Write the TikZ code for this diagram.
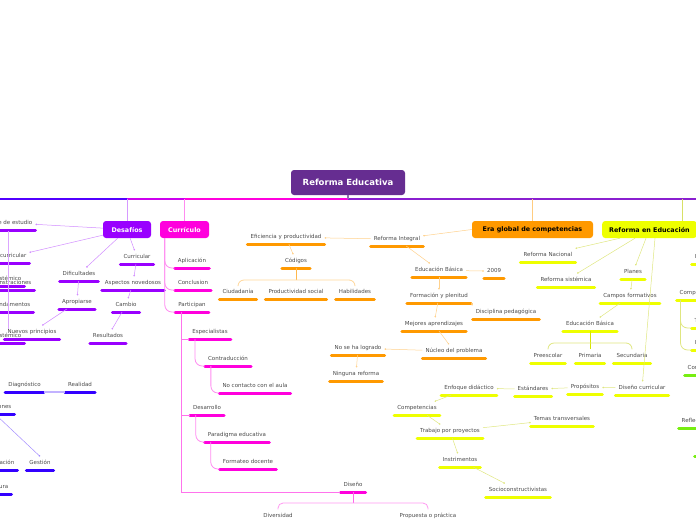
\documentclass[tikz,border=0pt]{standalone}
\usepackage{fontspec}
\setmainfont{DejaVu Sans}
\usetikzlibrary{positioning,arrows.meta,calc}
\definecolor{rootc}{HTML}{662D91}
\definecolor{spinec}{HTML}{8A1FD0}
\definecolor{desaf}{HTML}{9900FF}
\definecolor{curr}{HTML}{FF00DD}
\definecolor{erac}{HTML}{FF9900}
\definecolor{refo}{HTML}{EEFF00}
\definecolor{azul}{HTML}{3300FF}
\definecolor{verde}{HTML}{77EE11}
\definecolor{txt}{HTML}{4A4A4A}
\newcommand\lblfont{\fontsize{5.5}{6.5}\selectfont}
\newcommand\topfont{\fontsize{6.4}{8}\selectfont\bfseries}
\newcommand\rootfont{\fontsize{8.5}{10}\selectfont\bfseries}
\tikzset{topic/.style={rounded corners=3pt, font=\topfont, minimum height=17pt, inner xsep=6pt, inner ysep=2pt}}
\tikzset{lbl/.style={font=\lblfont, text=txt, inner xsep=3pt, inner ysep=4pt, text height=4pt, text depth=1.2pt, anchor=south}}
\tikzset{ubar/.style={line width=3pt, line cap=round}}
\tikzset{lnk/.style={draw=#1, line width=0.5pt, -{Circle[length=1.6pt]}}}
\tikzset{stem/.style={draw=#1, line width=0.8pt, rounded corners=7pt}}
% leaf: label with its underline bar
\newcommand\leaf[5][]{
		\node[lbl, #1] (#3) at (#4) {#5};
		\draw[ubar, #2] (#3.south west) -- (#3.south east);
		}
\begin{document}
\begin{tikzpicture}[x=1pt, y=-1pt]
	\useasboundingbox (0,0) rectangle (696,520);
	% main topics
	\node[topic, fill=rootc, text=white, font=\rootfont, minimum width=114pt, minimum height=25pt] (root) at (348,182.5) {Reforma Educativa};
	\node[topic, fill=desaf, text=white, minimum width=48pt] (desafios) at (127,229.5) {Desafíos};
	\node[topic, fill=curr, text=white, minimum width=49pt] (curriculo) at (184.5,229.5) {Currículo};
	\node[topic, fill=erac, minimum width=121pt] (era) at (532.5,229.5) {Era global de competencias};
	\node[topic, fill=refo, anchor=west, inner xsep=7pt] (reforma) at (602,229.5) {Reforma en Educación};

	% spine
	\coordinate (spineL) at (0,199);
	\coordinate (spineR) at (696,199);
	\draw[line width=1.2pt, azul!70!desaf] (spineL) -- (desafios.north |- spineL);
	\draw[line width=1.2pt, desaf!50!curr] (desafios.north |- spineL) -- (curriculo.north |- spineL);
	\draw[line width=1.2pt, curr] (curriculo.north |- spineL) -- (root.south |- spineL);
	\draw[line width=1.2pt, spinec] (root.south |- spineL) -- (spineR);
	\draw[line width=1.5pt, rootc!70] (root.south) -- (root.south |- spineL);
	\draw[stem=desaf!40] (desafios.north) -- (desafios.north |- spineL);
	\draw[stem=curr!45] (curriculo.north) -- (curriculo.north |- spineL);
	\draw[stem=erac!50] (era.north) -- (era.north |- spineL);
	\draw[stem=refo!80!black!60!white] ([xshift=80pt]reforma.north west) -- ([xshift=80pt]reforma.north west |- spineL);

	% Desafios
	\leaf[anchor=south east]{desaf}{estudio}{35.5,230}{e de estudio}
	\leaf[anchor=south east]{desaf}{curricularL}{29.5,263}{curricular}
	\leaf[anchor=south east]{desaf}{istemicoA}{24.5,286}{istémico}
	\leaf[anchor=south east]{desaf}{nstraciones}{34.5,290}{nstraciones}
	\leaf[anchor=south east]{desaf}{ndamentos}{33.5,312}{ndamentos}
	\leaf[anchor=south east]{desaf}{istemicoB}{24.5,343}{istémico}
	\leaf{desaf}{curricularR}{137,264}{Curricular}
	\leaf{desaf}{dificultades}{79,281}{Dificultades}
	\leaf{desaf}{aspectos}{133,290}{Aspectos novedosos}
	\leaf{desaf}{apropiarse}{77,309}{Apropiarse}
	\leaf{desaf}{cambio}{126,312}{Cambio}
	\leaf{desaf}{nuevos}{32,339}{Nuevos principios}
	\leaf{desaf}{resultados}{108,343}{Resultados}
	\coordinate (estudiostem) at (8,231);
	\draw[stem=desaf!35] (estudiostem) -- (estudiostem |- istemicoB.north);
	\draw[lnk=desaf!45] (desafios) -- (estudio);
	\draw[lnk=desaf!45] (desafios) -- (curricularL);
	\draw[lnk=desaf!45] (desafios) -- (curricularR);
	\draw[lnk=desaf!45] (desafios) -- (dificultades);
	\draw[lnk=desaf!45] (curricularR) -- (aspectos);
	\draw[lnk=desaf!45] (dificultades) -- (apropiarse);
	\draw[lnk=desaf!45] (aspectos) -- (cambio);
	\draw[lnk=desaf!45] (apropiarse) -- (nuevos);
	\draw[lnk=desaf!45] (cambio) -- (resultados);

	% blue branch
	\leaf{azul}{diagnostico}{24.5,392}{Diagnóstico}
	\leaf{azul}{realidad}{80,392}{Realidad}
	\leaf[anchor=south east]{azul}{ones}{14.5,414}{ones}
	\leaf[anchor=south east]{azul}{acion}{17.5,470}{ación}
	\leaf{azul}{gestion}{40,470}{Gestión}
	\leaf[anchor=south east]{azul}{ura}{11.5,494}{ura}
	\draw[azul!30, line width=1.5pt] (diagnostico.south east) -- (realidad.south west);
	\draw[lnk=azul!45] (ones.south west) -- (gestion.north);

	% Curriculo
	\leaf{curr}{aplicacion}{192,268}{Aplicación}
	\leaf{curr}{conclusion}{193,290}{Conclusion}
	\leaf{curr}{participan}{192,312}{Participan}
	\leaf{curr}{especialistas}{210,339}{Especialistas}
	\leaf{curr}{contraduccion}{228,366}{Contraducción}
	\leaf{curr}{nocontacto}{255,393}{No contacto con el aula}
	\leaf{curr}{desarrollo}{207,415}{Desarrollo}
	\leaf{curr}{paradigma}{237,442}{Paradigma educativa}
	\leaf{curr}{formateo}{248,469}{Formateo docente}
	\leaf{curr}{diseno}{353,492}{Diseño}
	\leaf{curr}{diversidad}{278,523}{Diversidad}
	\leaf{curr}{propuesta}{428,523}{Propuesta o práctica}
	\draw[stem=curr!45] ([xshift=5pt]curriculo.south west) |- (aplicacion.south west);
	\draw[stem=curr!45] ([xshift=5pt]curriculo.south west) |- (conclusion.south west);
	\draw[stem=curr!45] ([xshift=5pt]curriculo.south west) |- (participan.south west);
	\draw[stem=curr!55, sharp corners] ([xshift=6.5pt]participan.south west) |- (especialistas.south west);
	\draw[stem=curr!55, sharp corners] ([xshift=6.5pt]participan.south west) |- (desarrollo.south west);
	\draw[stem=curr!55, sharp corners] ([xshift=6.5pt]participan.south west) |- (diseno.south west);
	\draw[stem=curr!45] ([xshift=6pt]especialistas.south west) |- (contraduccion.south west);
	\draw[stem=curr!45] ([xshift=6pt]contraduccion.south west) |- (nocontacto.south west);
	\draw[stem=curr!45] ([xshift=6pt]desarrollo.south west) |- (paradigma.south west);
	\draw[stem=curr!45] ([xshift=6pt]paradigma.south west) |- (formateo.south west);
	\coordinate (disjoin) at (353,503);
	\draw[stem=curr!60] (diseno.south) -- (disjoin);
	\draw[stem=curr!40, rounded corners=5pt] (disjoin) -| (diversidad.north);
	\draw[stem=curr!40, rounded corners=5pt] (disjoin) -| (propuesta.north);

	% Era global de competencias
	\leaf{erac}{integral}{397,246}{Reforma Integral}
	\leaf{erac}{eficiencia}{286,244}{Eficiencia y productividad}
	\leaf{erac}{codigos}{296,268}{Códigos}
	\leaf{erac}{ciudadania}{238,299}{Ciudadanía}
	\leaf{erac}{prodsocial}{296,299}{Productividad social}
	\leaf{erac}{habilidades}{355,299}{Habilidades}
	\leaf{erac}{edbasica}{439,277}{Educación Básica}
	\leaf{erac}{anio}{494,278}{2009}
	\leaf{erac}{formacion}{439,303}{Formación y plenitud}
	\leaf{erac}{disciplina}{506,319}{Disciplina pedagógica}
	\leaf{erac}{mejores}{434,331}{Mejores aprendizajes}
	\leaf{erac}{nucleo}{454,358}{Núcleo del problema}
	\leaf{erac}{nologrado}{358,355}{No se ha logrado}
	\leaf{erac}{ninguna}{356,381}{Ninguna reforma}
	\draw[lnk=erac!45] (era.west) -- (integral);
	\draw[lnk=erac!45] (integral) -- (eficiencia);
	\draw[lnk=erac!45] (eficiencia) -- (codigos);
	\draw[lnk=erac!45] (integral) -- (edbasica);
	\draw[lnk=erac!45] (edbasica) -- (anio);
	\draw[lnk=erac!45] (edbasica) -- (formacion);
	\draw[lnk=erac!45] (formacion.south east) -- (disciplina.north west);
	\draw[lnk=erac!45] (formacion) -- (mejores);
	\draw[lnk=erac!45] (mejores) -- (nucleo);
	\draw[lnk=erac!45] (nucleo) -- (nologrado);
	\draw[lnk=erac!45] (nologrado) -- (ninguna);
	\coordinate (codjoin) at (296,280);
	\draw[stem=erac!70] (codigos.south) -- (codjoin);
	\draw[stem=erac!40, rounded corners=6pt] (codjoin) -| (ciudadania.north);
	\draw[stem=erac!40, rounded corners=6pt] (codjoin) -| (habilidades.north);

	% Reforma en Educacion
	\leaf{refo}{nacional}{548,262}{Reforma Nacional}
	\leaf{refo}{sistemica}{566,287}{Reforma sistémica}
	\leaf{refo}{planes}{633,279}{Planes}
	\leaf{refo}{campos}{630,303}{Campos formativos}
	\leaf{refo}{edbasicaR}{590,331}{Educación Básica}
	\leaf{refo}{preescolar}{548,363}{Preescolar}
	\leaf{refo}{primaria}{590,363}{Primaria}
	\leaf{refo}{secundaria}{632,363}{Secundaria}
	\leaf{refo}{disenocur}{642,395}{Diseño curricular}
	\leaf{refo}{propositos}{585,394}{Propósitos}
	\leaf{refo}{estandares}{533,396}{Estándares}
	\leaf{refo}{enfoque}{469,395}{Enfoque didáctico}
	\leaf{refo}{competencias}{417,415}{Competencias}
	\leaf{refo}{trabajo}{450,438}{Trabajo por proyectos}
	\leaf{refo}{temas}{562,426}{Temas transversales}
	\leaf{refo}{instrimentos}{460,467}{Instrimentos}
	\leaf{refo}{socio}{518,497}{Socioconstructivistas}
	\leaf[anchor=south west]{refo}{rI}{691.5,264}{I}
	\leaf[anchor=south west]{refo}{comp}{676.5,300}{Comp}
	\leaf[anchor=south west]{refo}{rT}{691.5,328}{T}
	\leaf[anchor=south west]{refo}{rIb}{691.5,350}{I}
	\leaf[anchor=south west]{verde}{con}{684.5,375}{Con}
	\leaf[anchor=south west]{verde}{reflec}{678.5,428}{Reflec}
	\leaf[anchor=south west]{verde}{gbar}{694.5,456}{}
	\draw[lnk=refo!80!black!50!white] ([xshift=18pt]reforma.south west) -- (nacional.north east);
	\draw[lnk=refo!80!black!50!white] ([xshift=33pt]reforma.south west) -- (sistemica);
	\draw[lnk=refo!80!black!50!white] ([xshift=44pt]reforma.south west) -- (planes);
	\draw[lnk=refo!80!black!50!white] ([xshift=53pt]reforma.south west) -- (disenocur);
	\draw[lnk=refo!80!black!50!white] (planes) -- (campos);
	\draw[lnk=refo!80!black!50!white] (campos) -- (edbasicaR);
	\draw[lnk=refo!80!black!50!white] (disenocur) -- (propositos);
	\draw[lnk=refo!80!black!50!white] (propositos) -- (estandares);
	\draw[lnk=refo!80!black!50!white] (estandares) -- (enfoque);
	\draw[lnk=refo!80!black!50!white] (enfoque) -- (competencias);
	\draw[lnk=refo!80!black!50!white] (competencias) -- (trabajo);
	\draw[lnk=refo!80!black!50!white] (trabajo) -- (temas);
	\draw[lnk=refo!80!black!50!white] (trabajo) -- (instrimentos);
	\draw[lnk=refo!80!black!50!white] (instrimentos) -- (socio);
	\coordinate (ebjoin) at (590,343);
	\draw[stem=refo!90!black] (edbasicaR.south) -- (primaria.north);
	\draw[stem=refo!80!black!50!white, rounded corners=6pt] (ebjoin) -| (preescolar.north);
	\draw[stem=refo!80!black!50!white, rounded corners=6pt] (ebjoin) -| (secundaria.north);
	\draw[stem=refo!80!black!50!white] ([xshift=4pt]comp.south west) |- (rT.south west);
	\draw[stem=refo!80!black!50!white] ([xshift=4pt]comp.south west) |- (rIb.south west);
\end{tikzpicture}
\end{document}
